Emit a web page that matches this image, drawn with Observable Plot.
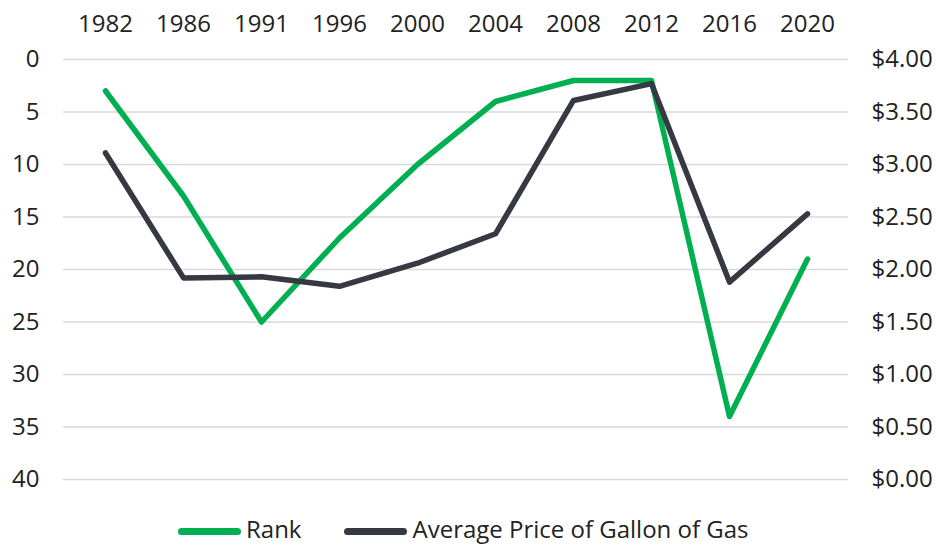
<!DOCTYPE html>
<html><head><meta charset="utf-8">
<script src="https://cdn.jsdelivr.net/npm/d3@7"></script>
<script src="https://cdn.jsdelivr.net/npm/@observablehq/plot@0.6"></script>
<style>
body{margin:0;background:#fff;font-family:"Open Sans",sans-serif;}
#wrap{position:relative;width:936px;height:544px;overflow:hidden;}
#wrap svg{display:block;}
.legend{position:absolute;left:178px;top:517px;display:flex;align-items:flex-start;font-size:24px;line-height:24px;color:#222;white-space:nowrap;}
.sw{width:63px;height:7px;border-radius:3.5px;margin-top:11px;margin-right:5px;}
.item{display:flex;align-items:flex-start;}
</style></head><body><div id="wrap"></div>
<script>
const years = ["1982","1986","1991","1996","2000","2004","2008","2012","2016","2020"];
const rank = [3,13,25,17,10,4,2,2,34,19];
const price = [3.11,1.92,1.93,1.84,2.06,2.34,3.61,3.77,1.88,2.53];
const rankTicks = [0,5,10,15,20,25,30,35,40];
const priceTicks = [0,0.5,1,1.5,2,2.5,3,3.5,4];
const seriesNames = ["Rank","Average Price of Gallon of Gas"];
const colors = ["#00b050","#363842"];

// price shares the rank axis: $4.00 at rank 0, $0.00 at rank 40
const toRankSpace = p => 40 - p * 10;
const fromRankSpace = r => (40 - r) / 10;

const data = years.map((y, i) => ({year: y, rank: rank[i], price: toRankSpace(price[i])}));

const chart = Plot.plot({
  width: 936,
  height: 496,
  marginTop: 59,
  marginBottom: 17,
  marginLeft: 63,
  marginRight: 88,
  style: {fontFamily: "Open Sans", fontSize: "24px", color: "#222", background: "#fff"},
  x: {type: "point", domain: years, padding: 0.5, label: null},
  y: {domain: [0, 40], reverse: true, label: null},
  marks: [
    Plot.gridY(rankTicks, {stroke: "#d9d9d9", strokeOpacity: 1, strokeWidth: 1.5}),
    Plot.axisX({anchor: "top", tickSize: 0, tickPadding: 28, fontSize: 24, label: null}),
    Plot.axisY(rankTicks, {anchor: "left", tickSize: 0, tickPadding: 24, fontSize: 24, label: null}),
    Plot.axisY(priceTicks.map(toRankSpace), {anchor: "right", tickSize: 0, tickPadding: 23, fontSize: 24, label: null,
      tickFormat: d => "$" + fromRankSpace(d).toFixed(2)}),
    Plot.line(data, {x: "year", y: "rank", stroke: colors[0], strokeWidth: 5.5}),
    Plot.line(data, {x: "year", y: "price", stroke: colors[1], strokeWidth: 5.5})
  ]
});
const wrap = document.getElementById("wrap");
wrap.appendChild(chart);

const legend = document.createElement("div");
legend.className = "legend";
seriesNames.forEach((name, i) => {
  const item = document.createElement("div");
  item.className = "item";
  if (i > 0) item.style.marginLeft = "43px";
  const sw = document.createElement("div");
  sw.className = "sw";
  sw.style.background = colors[i];
  const t = document.createElement("span");
  t.textContent = name;
  item.appendChild(sw);
  item.appendChild(t);
  legend.appendChild(item);
});
wrap.appendChild(legend);
</script>
</body></html>
